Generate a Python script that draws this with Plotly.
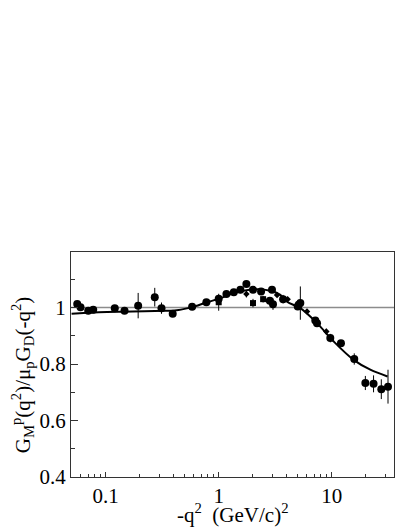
import plotly.graph_objects as go

# --- data ---
circ_x = [0.0561, 0.060, 0.0702, 0.0777, 0.1205, 0.147, 0.194, 0.272, 0.312, 0.392,
          0.582, 0.778, 1.0, 1.17, 1.36, 1.555, 1.757, 2.01, 2.37, 2.83, 2.96, 3.02,
          3.71, 5.0, 5.09, 5.27, 7.15, 7.4, 9.7, 12.05, 15.8, 19.8, 23.4, 27.4, 31.4]
circ_y = [1.013, 1.0015, 0.989, 0.992, 0.998, 0.989, 1.007, 1.037, 0.998, 0.978,
          1.0035, 1.019, 1.031, 1.048, 1.054, 1.063, 1.084, 1.063, 1.057, 1.024, 1.063, 1.012,
          1.03, 1.004, 1.01, 1.016, 0.954, 0.945, 0.892, 0.874, 0.818, 0.733, 0.73, 0.711, 0.72]
circ_err = [0.005, 0.005, 0.012, 0.005, 0.006, 0.006, 0.045, 0.033, 0.02, 0.008,
            0.008, 0.008, 0.01, 0.008, 0.012, 0.012, 0.01, 0.01, 0.01, 0.012, 0.01, 0.02,
            0.015, 0.01, 0.012, 0.059, 0.012, 0.01, 0.015, 0.01, 0.02, 0.025, 0.03, 0.035, 0.06]

sq_x = [1.0, 2.01, 2.47]
sq_y = [1.019, 1.016, 1.03]
sq_err = [0.03, 0.015, 0.012]

dm_x = [1.757, 3.28, 4.07, 6.04, 8.94]
dm_y = [1.048, 1.045, 1.03, 0.986, 0.915]
dm_err = [0.012, 0.005, 0.005, 0.008, 0.01]

fit_x = [0.05, 0.087, 0.172, 0.339, 0.39, 0.562, 0.79, 1.035, 1.36, 2.04, 2.86, 3.51,
         4.02, 5.27, 7.4, 10.4, 15.6, 21.9, 31.1]
fit_y = [0.978, 0.984, 0.986, 0.989, 0.989, 1.0, 1.019, 1.033, 1.051, 1.065, 1.06, 1.045,
         1.021, 0.998, 0.945, 0.88, 0.815, 0.78, 0.756]

x_ticks = [0.1, 1, 10]
x_ticklabels = ["0.1", "1", "10"]
x_minor = [0.05, 0.06, 0.07, 0.08, 0.09, 0.2, 0.3, 0.4, 0.5, 0.6, 0.7, 0.8, 0.9,
           2, 3, 4, 5, 6, 7, 8, 9, 20, 30]
y_ticks = [0.4, 0.6, 0.8, 1.0]
y_ticklabels = ["0.4", "0.6", "0.8", "1"]
y_minor = [0.5, 0.7, 0.9, 1.1]

FONT = "Liberation Serif, Times New Roman, Times, serif"
FS = 21

fig = go.Figure()

fig.add_trace(go.Scatter(x=fit_x, y=fit_y, mode="lines", line=dict(color="black", width=2, shape="spline"),
                         showlegend=False))

def pts(x, y, e, symbol, size):
    return go.Scatter(x=x, y=y, mode="markers",
                      marker=dict(symbol=symbol, size=size, color="black"),
                      error_y=dict(type="data", array=e, color="black", thickness=1, width=0),
                      showlegend=False)

fig.add_trace(pts(circ_x, circ_y, circ_err, "circle", 8))
fig.add_trace(pts(sq_x, sq_y, sq_err, "square", 6))
fig.add_trace(pts(dm_x, dm_y, dm_err, "diamond", 5))

fig.add_shape(type="line", xref="paper", x0=0, x1=1, yref="y", y0=1, y1=1,
              line=dict(color="#8c8c8c", width=1.5), layer="below")

# page body has an 8px margin, so the figure is sized/offset to compensate
fig.update_layout(
    width=401, height=521,
    margin=dict(l=63, r=15, t=244, b=52),
    paper_bgcolor="white", plot_bgcolor="white",
    font=dict(family=FONT, size=FS, color="black"),
    xaxis=dict(type="log", range=[-1.306, 1.55], showgrid=False, zeroline=False, automargin=False,
               showline=True, linecolor="#333", linewidth=1, mirror=True,
               ticks="inside", ticklen=5, tickcolor="#333",
               tickvals=x_ticks, ticktext=x_ticklabels,
               tickfont=dict(family=FONT, size=FS),
               minor=dict(ticks="inside", ticklen=3, tickcolor="#333", tickvals=x_minor)),
    yaxis=dict(range=[0.4, 1.197], showgrid=False, zeroline=False, automargin=False,
               showline=True, linecolor="#333", linewidth=1, mirror=True,
               ticks="inside", ticklen=7, tickcolor="#333",
               tickvals=y_ticks, ticktext=y_ticklabels,
               tickfont=dict(family=FONT, size=FS),
               minor=dict(ticks="inside", ticklen=4, tickcolor="#333", tickvals=y_minor)),
    annotations=[
        dict(text="-q<sup>2</sup>\u00a0\u00a0(GeV/c)<sup>2</sup>", xref="paper", yref="paper",
             x=0.5, y=0, yshift=-52, xanchor="center", yanchor="bottom", showarrow=False,
             font=dict(family=FONT, size=FS)),
        dict(text="G<sub>M</sub><sup>p</sup>(q<sup>2</sup>)/\u03bc<sub>p</sub>G<sub>D</sub>(-q<sup>2</sup>)",
             xref="paper", yref="paper", x=0, y=0.45, xshift=-32, textangle=-90,
             xanchor="right", yanchor="middle", showarrow=False,
             font=dict(family=FONT, size=FS)),
    ],
)

fig.write_html("out.html")
